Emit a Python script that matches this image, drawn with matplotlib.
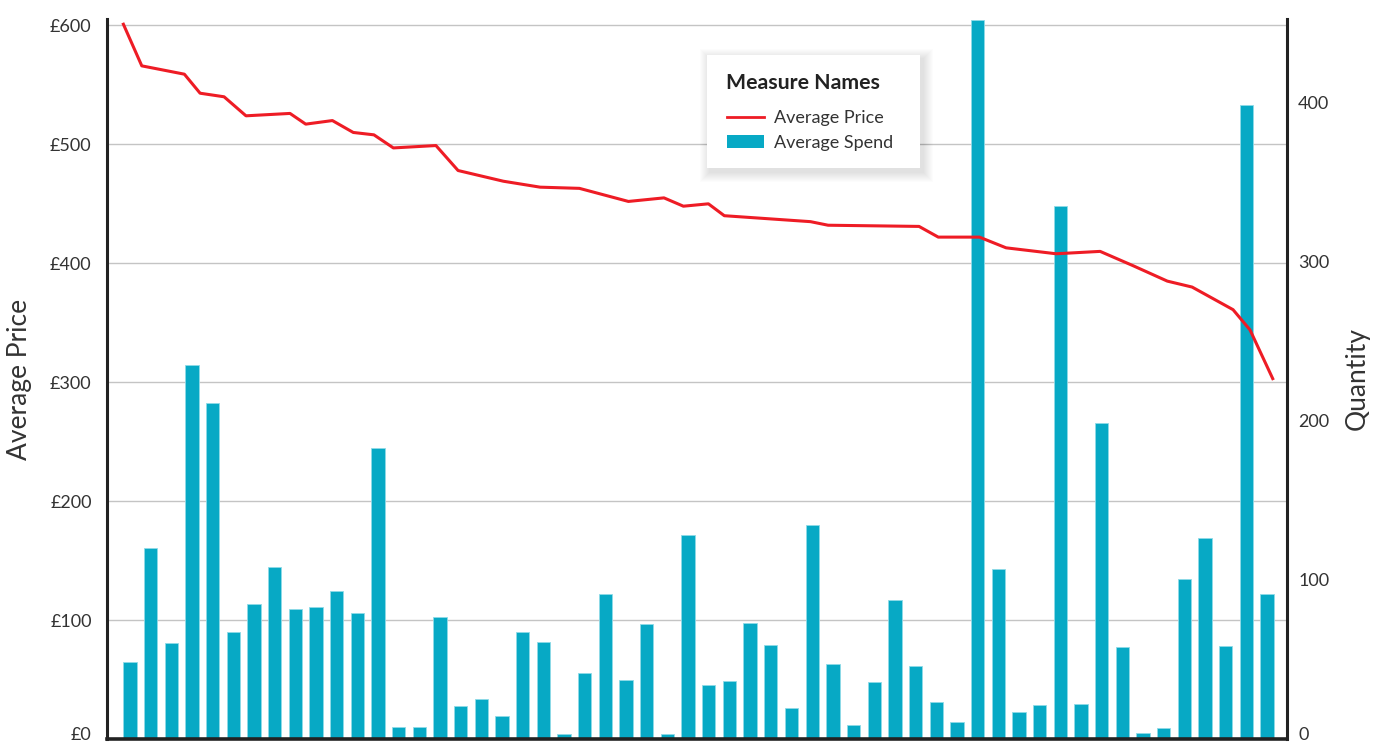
import matplotlib
matplotlib.use("Agg")
import matplotlib.pyplot as plt
import matplotlib.transforms as mtransforms
from matplotlib.patches import Rectangle, Patch
from matplotlib.lines import Line2D

plt.rcParams['font.family'] = ['Lato', 'DejaVu Sans']

# quantity bars (right axis), one per slot
quantity = [48.6, 120.1, 60.2, 235, 211, 67.1, 84.7, 108, 81.6, 83.2,
            93.1, 79.1, 182.8, 7.5, 7.5, 76.5, 20.6, 25.2, 14.3, 67.1,
            60.8, 3.1, 41.3, 91.2, 37.1, 72.5, 3.1, 128.5, 33.8, 36.3,
            73, 59.1, 19.3, 134.6, 47.2, 9.0, 36.1, 87.6, 46.1, 23.5,
            10.9, 452, 106.9, 17.2, 21.6, 334.8, 21.8, 198.9, 57.9, 3.8,
            6.7, 100.4, 126.2, 58.7, 398.5, 91.2]

# average price line (left axis), positions in slot units
price_pos = [-0.32, 0.57, 2.63, 3.39, 4.55, 5.61, 7.74, 8.50, 9.79, 10.80,
             11.80, 12.74, 14.80, 15.87, 18.06, 19.84, 21.74, 24.11, 25.83, 26.77,
             27.98, 28.75, 32.92, 33.77, 38.17, 39.10, 41.09, 42.38, 44.80, 46.93,
             48.52, 50.18, 51.38, 53.36, 54.18, 55.28]
avg_price = [601, 566, 559, 543, 540, 524, 526, 517, 520, 510,
             508, 497, 499, 478, 469, 464, 463, 452, 455, 448,
             450, 440, 435, 432, 431, 422, 422, 413, 408, 410,
             398, 385, 380, 361, 344, 303]

price_ticks = [0, 100, 200, 300, 400, 500, 600]
price_labels = ['£0', '£100', '£200', '£300', '£400', '£500', '£600']
qty_ticks = [0, 100, 200, 300, 400]

BAR = '#07a9c5'
RED = '#ee1c25'
TXT = '#333333'

W, H = 1378, 742
fig = plt.figure(figsize=(W / 100, H / 100), dpi=100)
ax = fig.add_axes([107 / W, 1 - 739 / H, (1287 - 107) / W, (739 - 19) / H])
ax2 = ax.twinx()

# bars on the lower axes, ticks on the right
x = list(range(len(quantity)))
ax.bar(x, quantity, width=0.645, color=BAR, edgecolor='#8fdbe8', linewidth=0.6, zorder=2)
ax.set_xlim(-1.113, 55.97)
ax.set_ylim(0, 452.5)
ax.yaxis.tick_right()
ax.yaxis.set_label_position('right')
ax.set_yticks(qty_ticks)
ax.set_ylabel('Quantity', fontsize=19, color=TXT, labelpad=11)

# price line on the upper axes, ticks on the left
ax2.plot(price_pos, avg_price, color=RED, linewidth=2.2, zorder=3)
ax2.set_ylim(0, 605.4)
ax2.yaxis.tick_left()
ax2.yaxis.set_label_position('left')
ax2.set_yticks(price_ticks)
ax2.set_yticklabels(price_labels)
ax2.set_ylabel('Average Price', fontsize=19, color=TXT, labelpad=13)

# price gridlines drawn under the bars
blend = mtransforms.blended_transform_factory(ax.transAxes, ax2.transData)
for p in price_ticks[1:]:
    ax.plot([0, 1], [p, p], transform=blend, color='#c4c4c4', linewidth=1.0, zorder=0)

for a in (ax, ax2):
    a.set_xticks([])
    a.tick_params(axis='y', length=0, labelsize=13, labelcolor=TXT)
    for s in a.spines.values():
        s.set_visible(False)
ax.tick_params(axis='y', pad=8)
ax2.tick_params(axis='y', pad=11)

# lift the zero labels off the bottom edge
nudge = mtransforms.ScaledTranslation(0, 4 / 72, fig.dpi_scale_trans)
for a in (ax, ax2):
    t0 = a.yaxis.get_major_ticks()[0]
    t0.label1.set_transform(t0.label1.get_transform() + nudge)
    t0.label2.set_transform(t0.label2.get_transform() + nudge)

ax2.spines['left'].set_visible(True)
ax2.spines['left'].set_color('#222222')
ax2.spines['left'].set_linewidth(2.2)
ax.spines['right'].set_visible(True)
ax.spines['right'].set_color('#222222')
ax.spines['right'].set_linewidth(2.2)
ax.spines['bottom'].set_visible(True)
ax.spines['bottom'].set_color('#222222')
ax.spines['bottom'].set_linewidth(2.6)

# legend card: soft shadow, white box, title, entries
lx0, ly0, lx1, ly1 = 707, 55, 920, 168
for i in range(1, 11):
    sh = Rectangle(((lx0 + 3 - i) / W, 1 - (ly1 + 4 + i) / H),
                   (lx1 - lx0 + 2 * i) / W, (ly1 - ly0 + 2 * i) / H,
                   transform=fig.transFigure, facecolor='black',
                   edgecolor='none', alpha=0.011, zorder=5)
    fig.add_artist(sh)
fig.add_artist(Rectangle((lx0 / W, 1 - ly1 / H), (lx1 - lx0) / W, (ly1 - ly0) / H,
                         transform=fig.transFigure, facecolor='white',
                         edgecolor='none', zorder=5.5))
fig.text(726 / W, 1 - 83 / H, 'Measure Names', fontsize=15.3, fontweight='bold',
         color='#222222', va='center', ha='left', zorder=6)

handles = [Line2D([], [], color=RED, linewidth=2.0),
           Patch(facecolor=BAR, edgecolor='none')]
leg = fig.legend(handles, ['Average Price', 'Average Spend'],
                 loc='center left', bbox_to_anchor=(727 / W, 1 - 130.5 / H),
                 borderaxespad=0, borderpad=0, frameon=False,
                 fontsize=13, handlelength=2.05, handleheight=0.7, handletextpad=0.55,
                 labelspacing=0.5, labelcolor=TXT)
leg.set_zorder(6)

fig.savefig('out.png', dpi=100)
